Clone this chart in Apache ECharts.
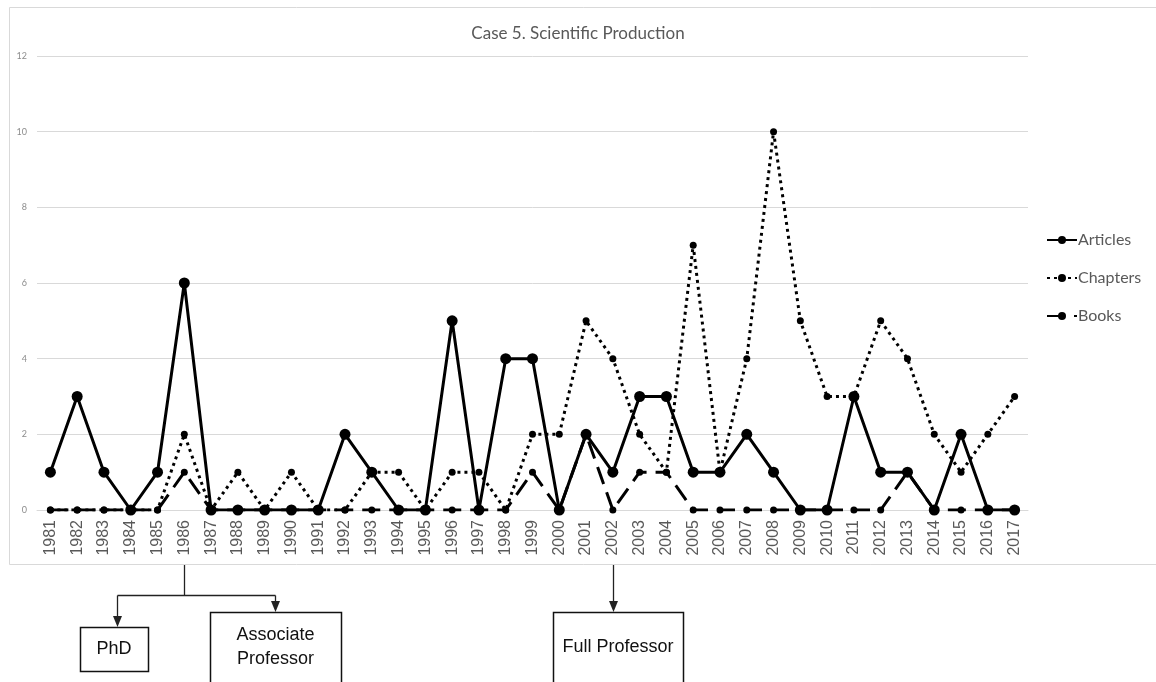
<!DOCTYPE html>
<html>
<head>
<meta charset="utf-8">
<script src="https://cdn.jsdelivr.net/npm/echarts@6/dist/echarts.min.js"></script>
<style>
  html, body { margin: 0; padding: 0; background: #fff; }
  #chart { width: 1156px; height: 682px; }
</style>
</head>
<body>
<div id="chart"></div>
<script>
const years = ['1981','1982','1983','1984','1985','1986','1987','1988','1989','1990',
  '1991','1992','1993','1994','1995','1996','1997','1998','1999','2000',
  '2001','2002','2003','2004','2005','2006','2007','2008','2009','2010',
  '2011','2012','2013','2014','2015','2016','2017']
const articles = [1,3,1,0,1,6,0,0,0,0,0,2,1,0,0,5,0,4,4,0,2,1,3,3,1,1,2,1,0,0,3,1,1,0,2,0,0]
const chapters = [0,0,0,0,0,2,0,1,0,1,0,0,1,1,0,1,1,0,2,2,5,4,2,1,7,1,4,10,5,3,3,5,4,2,1,2,3]
const books    = [0,0,0,0,0,1,0,0,0,0,0,0,0,0,0,0,0,0,1,0,2,0,1,1,0,0,0,0,0,0,0,0,1,0,0,0,0]
const yTicks = { min: 0, max: 12, interval: 2 }
// career milestones shown under the axis
const milestones = [
  { year: '1986', boxes: [
    { text: 'PhD', x: 80, y: 627, w: 68, h: 44, cx: 117 },
    { text: 'Associate\nProfessor', x: 210, y: 612, w: 131, h: 80, cx: 275 }
  ] },
  { year: '2002', boxes: [
    { text: 'Full Professor', x: 553, y: 612, w: 130, h: 80, cx: null }
  ] }
]

const chart = echarts.init(document.getElementById('chart'))
const option = {
  backgroundColor: '#fff',
  animation: false,
  title: {
    text: 'Case 5. Scientific Production',
    left: 'center',
    top: 20,
    textStyle: { fontSize: 17, fontWeight: 'normal', color: '#595959', fontFamily: 'Lato' }
  },
  legend: {
    orient: 'vertical',
    left: 1041,
    top: 227,
    itemGap: 22,
    itemWidth: 30,
    itemHeight: 10,
    textStyle: { fontSize: 16, color: '#595959', fontFamily: 'Lato', padding: [0, 0, 0, -4] },
    data: ['Articles', 'Chapters', 'Books']
  },
  grid: { left: 37, right: 128, top: 56, bottom: 172, containLabel: false },
  xAxis: {
    type: 'category',
    data: years,
    boundaryGap: true,
    axisTick: { show: false },
    axisLine: { show: true, lineStyle: { color: '#d9d9d9', width: 1 } },
    axisLabel: { rotate: 90, fontSize: 16, color: '#595959', fontFamily: 'Liberation Sans', margin: 10, interval: 0 }
  },
  yAxis: {
    type: 'value',
    min: yTicks.min,
    max: yTicks.max,
    interval: yTicks.interval,
    axisLine: { show: false },
    axisTick: { show: false },
    axisLabel: { fontSize: 9, color: '#8c8c8c', fontFamily: 'Lato', margin: 10 },
    splitLine: { lineStyle: { color: '#d9d9d9', width: 1 } }
  },
  series: [
    {
      name: 'Articles', type: 'line', data: articles, z: 4,
      symbol: 'circle', symbolSize: 11,
      itemStyle: { color: '#000' },
      lineStyle: { color: '#000', width: 3 }
    },
    {
      name: 'Chapters', type: 'line', data: chapters, z: 3,
      symbol: 'circle', symbolSize: 7,
      itemStyle: { color: '#000' },
      lineStyle: { color: '#000', width: 3, type: [3, 4], cap: 'butt' }
    },
    {
      name: 'Books', type: 'line', data: books, z: 2,
      symbol: 'circle', symbolSize: 7,
      itemStyle: { color: '#000' },
      lineStyle: { color: '#000', width: 3, type: [18, 9] }
    }
  ]
}
chart.setOption(option)

// frame and milestone annotations, anchored on the year positions
const graphics = [{
  type: 'rect', shape: { x: 9.5, y: 7.5, width: 1200, height: 557 },
  style: { fill: null, stroke: '#d9d9d9', lineWidth: 1 }, z: -1
}]
const axisBottom = 565
function arrowHead(x, yTip) {
  return { type: 'polygon', shape: { points: [[x - 4.5, yTip - 11], [x + 4.5, yTip - 11], [x, yTip]] },
    style: { fill: '#222' } }
}
milestones.forEach(m => {
  const mx = Math.round(chart.convertToPixel({ xAxisIndex: 0 }, m.year)) + 0.5
  if (m.boxes.length > 1) {
    const branchY = 595.5
    graphics.push({ type: 'polyline', shape: { points: [[mx, axisBottom], [mx, branchY]] }, style: { stroke: '#222', lineWidth: 1.3 } })
    const xs = m.boxes.map(b => b.cx + 0.5)
    graphics.push({ type: 'polyline', shape: { points: [[xs[0], branchY], [xs[xs.length - 1], branchY]] }, style: { stroke: '#222', lineWidth: 1.3 } })
    m.boxes.forEach(b => {
      graphics.push({ type: 'polyline', shape: { points: [[b.cx + 0.5, branchY], [b.cx + 0.5, b.y - 8]] }, style: { stroke: '#222', lineWidth: 1.3 } })
      graphics.push(arrowHead(b.cx + 0.5, b.y))
    })
  } else {
    const b = m.boxes[0]
    graphics.push({ type: 'polyline', shape: { points: [[mx, axisBottom], [mx, b.y - 8]] }, style: { stroke: '#222', lineWidth: 1.3 } })
    graphics.push(arrowHead(mx, b.y))
  }
  m.boxes.forEach(b => {
    graphics.push({ type: 'rect', shape: { x: b.x + 0.5, y: b.y + 0.5, width: b.w, height: b.h },
      style: { fill: '#fff', stroke: '#111', lineWidth: 1.5 } })
    const lines = b.text.split('\n').length
    graphics.push({ type: 'text', x: b.x + b.w / 2, y: lines > 1 ? b.y + 35 : b.y + (b.h > 60 ? 35 : b.h / 2),
      style: { text: b.text, fill: '#111', font: '18px "Liberation Sans"', align: 'center', verticalAlign: 'middle', lineHeight: 24 } })
  })
})
chart.setOption({ graphic: graphics })
</script>
</body>
</html>
